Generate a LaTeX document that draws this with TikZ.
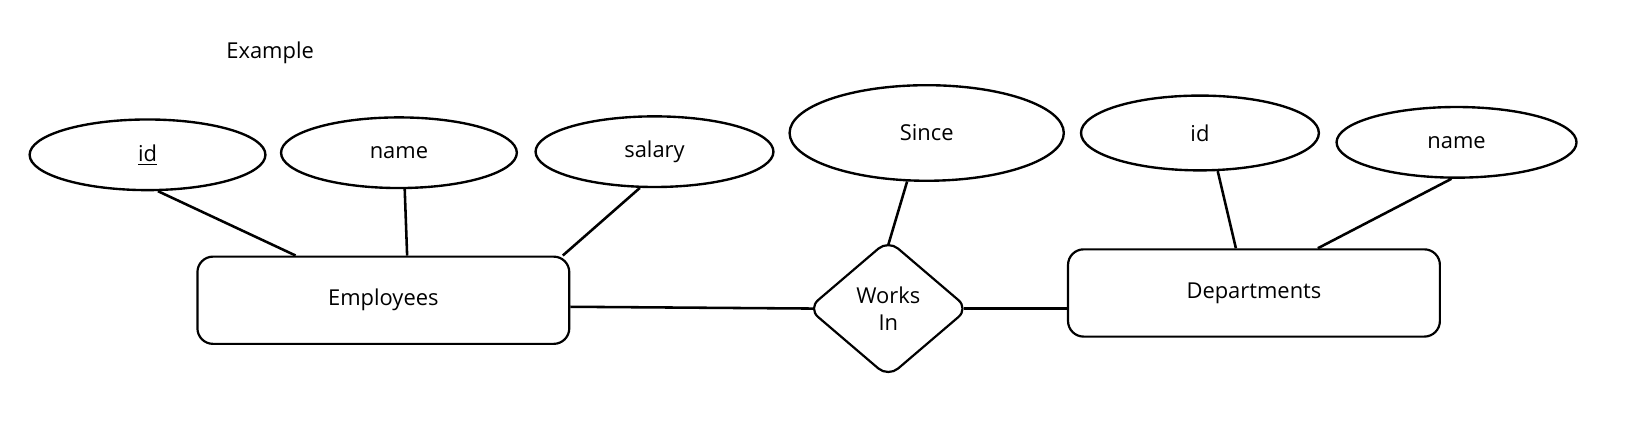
\documentclass[tikz,border=0pt]{standalone}
\usepackage{fontspec}
\setmainfont{Open Sans}
\usetikzlibrary{shapes.geometric}

\tikzset{
  attr/.style={ellipse,draw,line width=1.3pt,inner sep=0pt},
  entity/.style={rectangle,draw,line width=1.2pt,rounded corners=0.3cm,
    minimum width=7.16cm,minimum height=1.68cm},
  rel/.style={diamond,draw,line width=1.2pt,rounded corners=0.25cm,aspect=1.16,
    minimum width=3.1cm,minimum height=2.65cm,inner sep=0pt,align=center},
  link/.style={line width=1.4pt}
}

\begin{document}
\begin{tikzpicture}[x=0.02cm,y=-0.02cm,font=\fontsize{12}{15}\selectfont]
          \useasboundingbox (0,0) rectangle (1568,409);
          \node (title) at (260,51) {Example};
          % attributes
          \node[attr,minimum width=4.54cm,minimum height=1.36cm] (empid) at (142,149) {\underline{id}};
          \node[attr,minimum width=4.54cm,minimum height=1.36cm] (empname) at (384,147) {name};
          \node[attr,minimum width=4.58cm,minimum height=1.36cm] (empsal) at (630,146) {salary};
          \node[attr,minimum width=5.28cm,minimum height=1.84cm] (since) at (892,128) {Since};
          \node[attr,minimum width=4.58cm,minimum height=1.44cm] (depid) at (1155,128) {id};
          \node[attr,minimum width=4.62cm,minimum height=1.36cm] (depname) at (1402,137) {name};
          % entities and relationship
          \node[entity] (emp) at (369,289) {Employees};
          \node[entity] (dep) at (1207,282) {Departments};
          \node[rel] (works) at (855,297) {Works\\In};
          % connectors
          \draw[link] (empid.-74) -- (emp.153);
          \draw[link] (empname.-81) -- (emp.62);
          \draw[link] (empsal.-112) -- (emp.14);
          \draw[link] (since.-112) -- ([yshift=-0.12cm]works.north);
          \draw[link] (emp.-2) -- ([xshift=0.12cm]works.west);
          \draw[link] ([xshift=-0.12cm]works.east) -- (works.east -| dep.west);
          \draw[link] (depid.-65) -- (dep.112);
          \draw[link] (depname.-98) -- (dep.35);
\end{tikzpicture}
\end{document}
